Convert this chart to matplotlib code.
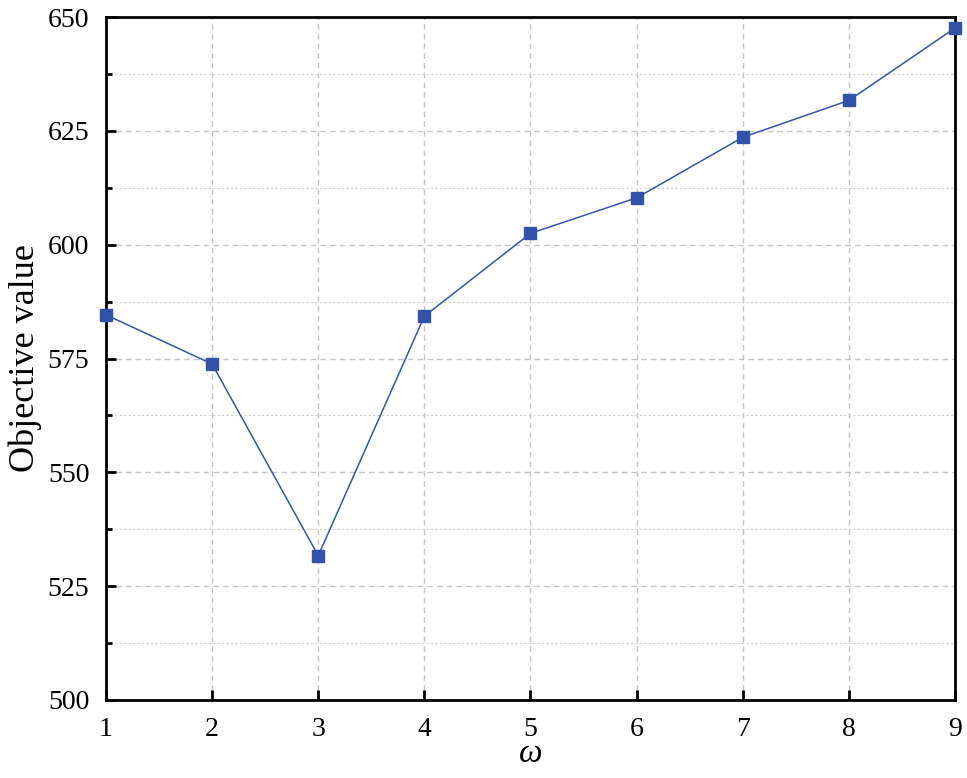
import numpy as np
import matplotlib.pyplot as plt
from matplotlib.ticker import MultipleLocator

omega = [1, 2, 3, 4, 5, 6, 7, 8, 9]
objective = [584.6, 573.8, 531.7, 584.3, 602.5, 610.3, 623.6, 631.7, 647.6]

plt.rcParams['font.family'] = 'serif'
plt.rcParams['font.serif'] = ['Liberation Serif']
plt.rcParams['mathtext.fontset'] = 'custom'
plt.rcParams['mathtext.rm'] = 'Liberation Serif'
plt.rcParams['mathtext.it'] = 'Liberation Serif:italic'

fig = plt.figure(figsize=(9.67, 7.78), dpi=100)
ax = fig.add_axes([0.1096, 0.1003, 0.8780, 0.8777])

ax.plot(omega, objective, color='#3355aa', lw=1.1, marker='s', ms=9,
        markerfacecolor='#3152a8', markeredgecolor='#3152a8', zorder=3, clip_on=False)

ax.set_xlim(1, 9)
ax.set_ylim(500, 650)
ax.xaxis.set_major_locator(MultipleLocator(1))
ax.yaxis.set_major_locator(MultipleLocator(25))
ax.yaxis.set_minor_locator(MultipleLocator(12.5))

# dashed major grid, finer dotted minor grid on y
ax.grid(which='major', color='#c4c4c4', ls=(0, (4, 3)), lw=1.0)
ax.grid(which='minor', axis='y', color='#d0d0d0', ls=(0, (2, 2)), lw=0.8)
ax.set_axisbelow(True)

for s in ax.spines.values():
    s.set_linewidth(2.0)
ax.tick_params(which='major', direction='in', length=7, width=2, labelsize=20)
ax.tick_params(axis='y', which='major', pad=12)
ax.tick_params(axis='x', which='major', pad=12)
ax.tick_params(which='minor', direction='in', length=4, width=2)

ax.set_ylabel('Objective value', fontsize=26, labelpad=4)
ax.set_xlabel(r'$\omega$', fontsize=24, labelpad=-2)

fig.savefig('out.png', dpi=100)
